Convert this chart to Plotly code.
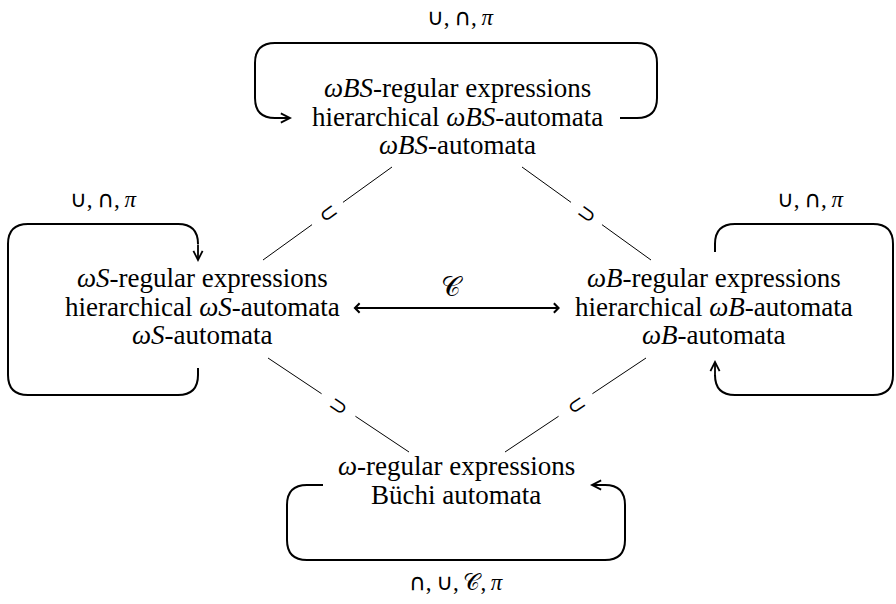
import math
import plotly.graph_objects as go

# ---------------- data ----------------
node_names = ["top", "left", "right", "bottom"]
node_lines = {
    "top": ["<i>ωBS</i>-regular expressions", "hierarchical <i>ωBS</i>-automata", "<i>ωBS</i>-automata"],
    "left": ["<i>ωS</i>-regular expressions", "hierarchical <i>ωS</i>-automata", "<i>ωS</i>-automata"],
    "right": ["<i>ωB</i>-regular expressions", "hierarchical <i>ωB</i>-automata", "<i>ωB</i>-automata"],
    "bottom": ["<i>ω</i>-regular expressions", "Büchi automata"],
}
CUP = "<span style='font-family:DejaVu Sans'>∪</span>"
CAP = "<span style='font-family:DejaVu Sans'>∩</span>"
SEP = ",\u2009"
loop_labels = [CUP + SEP + CAP + SEP + "<i>π</i>"] * 3 + [CAP + SEP + CUP + SEP + "𝒞" + SEP + "<i>π</i>"]
edge_symbols = ["⊂", "⊃", "⊃", "⊂"]   # top-left, top-right, bottom-left, bottom-right
complement_label = "𝒞"

# ---------------- layout geometry ----------------
node_cx = {"top": 457, "left": 202, "right": 714, "bottom": 456}
node_y0 = {"top": 88, "left": 278, "right": 278, "bottom": 466}
line_gap = 28.5
label_pos = [(460, 17), (103, 199), (810, 199), (456, 582)]

edges = [((263, 260), (392, 167)), ((651, 260), (522, 167)),
         ((268, 358), (409, 452)), ((646, 358), (505, 452))]

R = 20
loops = [
    [(620, 118), (657, 118), (657, 43), (255, 43), (255, 118), (292, 118)],
    [(198, 368), (198, 395), (8, 395), (8, 224), (198, 224), (198, 262)],
    [(715, 252), (715, 224), (893, 224), (893, 395), (715, 395), (715, 360)],
    [(323, 485), (287, 485), (287, 560), (625, 560), (625, 485), (590, 485)],
]
c_arrow = ((352, 308), (560, 308), (452, 287))

SERIF = "Liberation Serif, DejaVu Serif, serif"
FS = 27

fig = go.Figure()
shapes = []
annotations = []


def rounded_path(pts, r):
    d = f"M {pts[0][0]},{pts[0][1]}"
    for i in range(1, len(pts) - 1):
        p0, p1, p2 = pts[i - 1], pts[i], pts[i + 1]
        v1 = (p1[0] - p0[0], p1[1] - p0[1])
        v2 = (p2[0] - p1[0], p2[1] - p1[1])
        l1 = math.hypot(*v1)
        l2 = math.hypot(*v2)
        rr1 = min(r, l1 / 2 if i > 1 else l1)
        rr2 = min(r, l2 / 2 if i < len(pts) - 2 else l2)
        a = (p1[0] - v1[0] / l1 * rr1, p1[1] - v1[1] / l1 * rr1)
        b = (p1[0] + v2[0] / l2 * rr2, p1[1] + v2[1] / l2 * rr2)
        d += f" L {a[0]},{a[1]} Q {p1[0]},{p1[1]} {b[0]},{b[1]}"
    return d


for pts in loops:
    path = rounded_path(pts, R)
    last_corner = pts[-2]
    tip = pts[-1]
    vx, vy = tip[0] - last_corner[0], tip[1] - last_corner[1]
    L = math.hypot(vx, vy)
    start = (last_corner[0] + vx / L * min(R, L / 2), last_corner[1] + vy / L * min(R, L / 2))
    shapes.append(dict(type="path", path=path, xref="x", yref="y",
                       line=dict(color="black", width=2)))
    annotations.append(dict(x=tip[0], y=tip[1], ax=start[0], ay=start[1],
                            xref="x", yref="y", axref="x", ayref="y",
                            showarrow=True, arrowhead=5, arrowsize=1.0,
                            arrowwidth=1.8, arrowcolor="black", text="", standoff=0))

# diagonal inclusion edges
for (a, b), sym in zip(edges, edge_symbols):
    for t0, t1 in [(0.0, 0.38), (0.62, 1.0)]:
        shapes.append(dict(type="line", xref="x", yref="y",
                           x0=a[0] + (b[0] - a[0]) * t0, y0=a[1] + (b[1] - a[1]) * t0,
                           x1=a[0] + (b[0] - a[0]) * t1, y1=a[1] + (b[1] - a[1]) * t1,
                           line=dict(color="black", width=1)))
    ang = math.degrees(math.atan2(b[1] - a[1], b[0] - a[0]))
    if ang > 90:
        ang -= 180
    if ang < -90:
        ang += 180
    mx, my = (a[0] + b[0]) / 2, (a[1] + b[1]) / 2
    annotations.append(dict(x=mx, y=my, xref="x", yref="y", text=sym, showarrow=False,
                            textangle=ang, font=dict(family="DejaVu Sans", size=22, color="black")))

# complement double arrow
(p, q, lab) = c_arrow
annotations.append(dict(x=q[0], y=q[1], ax=p[0], ay=p[1], xref="x", yref="y",
                        axref="x", ayref="y", showarrow=True, arrowhead=4, startarrowhead=4,
                        arrowside="end+start", arrowsize=1.0, startarrowsize=1.0,
                        arrowwidth=1.8, arrowcolor="black", text="", standoff=0, startstandoff=0))
annotations.append(dict(x=lab[0], y=lab[1], xref="x", yref="y", text=complement_label,
                        showarrow=False, font=dict(family=SERIF, size=27, color="black")))

# node texts
for name in node_names:
    for i, t in enumerate(node_lines[name]):
        annotations.append(dict(x=node_cx[name], y=node_y0[name] + i * line_gap, xref="x", yref="y",
                                text=t, showarrow=False, xanchor="center", yanchor="middle",
                                font=dict(family=SERIF, size=FS, color="black")))

# loop labels
for (lx, ly), t in zip(label_pos, loop_labels):
    annotations.append(dict(x=lx, y=ly, xref="x", yref="y", text=t, showarrow=False,
                            font=dict(family=SERIF, size=23, color="black")))

fig.update_layout(
    width=896, height=604, margin=dict(l=0, r=0, t=0, b=0),
    paper_bgcolor="white", plot_bgcolor="white",
    xaxis=dict(range=[0, 896], visible=False, fixedrange=True),
    yaxis=dict(range=[604, 0], visible=False, fixedrange=True),
    shapes=shapes, annotations=annotations, showlegend=False,
)
fig.write_html("out.html", config={"displayModeBar": False},
               post_script="document.body.style.margin='0';document.body.style.overflow='hidden';")
